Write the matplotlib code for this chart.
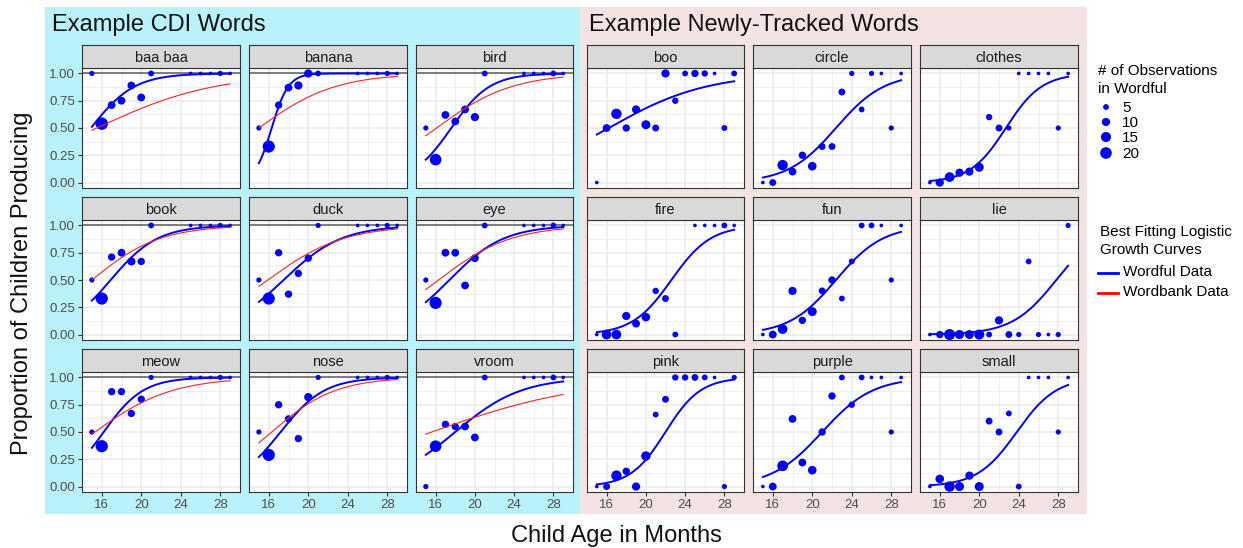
import matplotlib
matplotlib.use("Agg")
import matplotlib.pyplot as plt
from matplotlib.patches import Rectangle
import numpy as np

plt.rcParams['font.family'] = ['Liberation Sans', 'DejaVu Sans']

W, H = 1243, 548

cdi_words = ["baa baa", "banana", "bird", "book", "duck", "eye", "meow", "nose", "vroom"]
new_words = ["boo", "circle", "clothes", "fire", "fun", "lie", "pink", "purple", "small"]

cdi_ages = [15, 16, 17, 18, 19, 20, 21, 25, 26, 27, 28, 29]
new_ages = [15, 16, 17, 18, 19, 20, 21, 22, 23, 24, 25, 26, 27, 28, 29]
fire_ages = [15, 16, 17, 18, 19, 20, 21, 22, 23, 25, 26, 27, 28, 29]

# proportion of children producing the word, per age
prop = {
    "baa baa": [1.00, 0.54, 0.71, 0.75, 0.89, 0.78, 1, 1, 1, 1, 1, 1],
    "banana":  [0.50, 0.33, 0.71, 0.87, 0.89, 1.00, 1, 1, 1, 1, 1, 1],
    "bird":    [0.50, 0.21, 0.62, 0.56, 0.67, 0.60, 1, 1, 1, 1, 1, 1],
    "book":    [0.50, 0.33, 0.71, 0.75, 0.67, 0.67, 1, 1, 1, 1, 1, 1],
    "duck":    [0.50, 0.33, 0.75, 0.37, 0.56, 0.70, 1, 1, 1, 1, 1, 1],
    "eye":     [0.50, 0.29, 0.75, 0.75, 0.45, 0.70, 1, 1, 1, 1, 1, 1],
    "meow":    [0.50, 0.37, 0.87, 0.87, 0.67, 0.80, 1, 1, 1, 1, 1, 1],
    "nose":    [0.50, 0.29, 0.75, 0.62, 0.44, 0.82, 1, 1, 1, 1, 1, 1],
    "vroom":   [0.00, 0.37, 0.57, 0.55, 0.55, 0.45, 1, 1, 1, 1, 1, 1],
    "boo":     [0, 0.50, 0.63, 0.50, 0.67, 0.53, 0.50, 1, 0.75, 1, 1, 1, 1, 0.5, 1],
    "circle":  [0, 0, 0.16, 0.10, 0.25, 0.15, 0.33, 0.33, 0.83, 1, 0.67, 1, 1, 0.5, 1],
    "clothes": [0, 0, 0.05, 0.09, 0.10, 0.14, 0.60, 0.50, 0.50, 1, 1, 1, 1, 0.5, 1],
    "fire":    [0, 0, 0, 0.17, 0.10, 0.16, 0.40, 0.33, 0, 1, 1, 1, 1, 1],
    "fun":     [0, 0, 0.05, 0.40, 0.13, 0.21, 0.40, 0.50, 0.33, 0.67, 1, 1, 1, 0.5, 1],
    "lie":     [0, 0, 0, 0, 0, 0, 0, 0.13, 0, 0, 0.67, 0, 0, 0, 1],
    "pink":    [0, 0, 0.10, 0.14, 0, 0.28, 0.66, 0.80, 1, 1, 1, 1, 1, 0, 1],
    "purple":  [0, 0, 0.19, 0.62, 0.22, 0.15, 0.50, 0.83, 1, 0.75, 1, 1, 1, 0.5, 1],
    "small":   [0, 0.07, 0, 0, 0.10, 0, 0.60, 0.50, 0.67, 0, 1, 1, 1, 0.5, 1],
}

# number of observations in Wordful, per age
nobs = {
    "baa baa": [4, 23, 9, 9, 9, 9, 5, 2, 2, 2, 4, 2],
    "banana":  [4, 22, 8, 9, 10, 10, 5, 2, 2, 2, 4, 2],
    "bird":    [4, 20, 9, 9, 9, 10, 5, 2, 2, 2, 5, 2],
    "book":    [4, 22, 8, 9, 10, 8, 5, 2, 2, 2, 4, 2],
    "duck":    [4, 22, 8, 8, 8, 8, 4, 2, 2, 2, 4, 2],
    "eye":     [4, 22, 9, 9, 9, 9, 5, 2, 2, 2, 5, 2],
    "meow":    [4, 22, 8, 8, 8, 8, 4, 2, 2, 2, 4, 2],
    "nose":    [4, 22, 8, 8, 8, 10, 4, 2, 2, 2, 4, 2],
    "vroom":   [4, 20, 8, 8, 9, 9, 5, 2, 2, 2, 5, 2],
    "boo":     [2, 9, 16, 8, 10, 12, 7, 10, 6, 5, 8, 6, 2, 5, 5],
    "circle":  [2, 7, 16, 9, 8, 11, 7, 7, 7, 4, 5, 4, 2, 4, 2],
    "clothes": [2, 10, 14, 10, 10, 12, 6, 7, 4, 2, 2, 2, 2, 4, 2],
    "fire":    [2, 14, 14, 10, 9, 11, 6, 7, 5, 2, 2, 2, 5, 2],
    "fun":     [2, 9, 14, 10, 8, 12, 7, 8, 5, 5, 5, 5, 2, 4, 2],
    "lie":     [2, 8, 18, 12, 12, 15, 5, 10, 7, 4, 5, 4, 2, 4, 4],
    "pink":    [2, 7, 16, 8, 10, 13, 5, 7, 6, 6, 7, 5, 2, 4, 4],
    "purple":  [2, 9, 17, 9, 9, 11, 8, 8, 5, 6, 5, 2, 2, 4, 2],
    "small":   [2, 11, 16, 12, 10, 12, 7, 7, 5, 5, 2, 2, 2, 4, 2],
}

# logistic fits: (midpoint age, slope)
fit_wordful = {
    "baa baa": (14.9, 0.45), "banana": (16.3, 1.18), "bird": (17.6, 0.51),
    "book": (16.9, 0.42), "duck": (17.5, 0.34), "eye": (17.4, 0.36),
    "meow": (16.2, 0.50), "nose": (17.2, 0.45), "vroom": (18.0, 0.297),
    "boo": (16.2, 0.20), "circle": (22.4, 0.41), "clothes": (22.7, 0.55),
    "fire": (22.6, 0.50), "fun": (22.4, 0.42), "lie": (27.8, 0.446),
    "pink": (22.0, 0.56), "purple": (21.0, 0.39), "small": (23.8, 0.50),
}
fit_wordbank = {
    "baa baa": (15.5, 0.167), "banana": (15.0, 0.257), "bird": (16.1, 0.26),
    "book": (15.0, 0.29), "duck": (15.9, 0.26), "eye": (16.3, 0.27),
    "meow": (15.3, 0.254), "nose": (16.3, 0.31), "vroom": (15.6, 0.126),
}

size_breaks = [5, 10, 15, 20]


def logistic(x, mid, k):
    return 1.0 / (1.0 + np.exp(-k * (x - mid)))


def box(l, t, r, b):
    return [l / W, 1 - b / H, (r - l) / W, (b - t) / H]


def msize(n):
    return 3.5 * np.asarray(n, dtype=float)


fig = plt.figure(figsize=(W / 100, H / 100), dpi=100)
fig.patch.set_facecolor("white")

bg = fig.add_axes([0, 0, 1, 1], zorder=0)
bg.set_xlim(0, W)
bg.set_ylim(H, 0)
bg.axis("off")
bg.add_patch(Rectangle((45, 7), 535, 507, facecolor="#B9F2FB", edgecolor="none"))
bg.add_patch(Rectangle((580, 7), 507, 507, facecolor="#F3E4E3", edgecolor="none"))

col_x = [(82, 240), (249, 407), (416, 573), (587, 744), (753, 911), (920, 1078)]
row_y = [(45, 68, 188), (197, 220, 340), (349, 372, 492)]

xs = np.linspace(15, 29, 200)

for half, words in enumerate([cdi_words, new_words]):
    for i, word in enumerate(words):
        r, c = divmod(i, 3)
        col = c + 3 * half
        x0, x1 = col_x[col]
        st, sb, pb = row_y[r]

        ax = fig.add_axes(box(x0, sb, x1, pb), zorder=1)
        ax.set_facecolor("white")
        ax.set_xlim(14.3, 29.7)
        ax.set_ylim(-0.05, 1.05)
        ax.set_xticks([16, 20, 24, 28])
        ax.set_xticks([14, 18, 22, 26, 30], minor=True)
        ax.set_yticks([0, 0.25, 0.5, 0.75, 1.0])
        ax.set_yticks([0.125, 0.375, 0.625, 0.875], minor=True)
        ax.grid(which="major", color="#EBEBEB", lw=1.1)
        ax.grid(which="minor", color="#EBEBEB", lw=0.55)
        ax.set_axisbelow(True)
        for s in ax.spines.values():
            s.set_color("#333333")
            s.set_linewidth(0.8)
        ax.tick_params(which="minor", length=0)
        ax.tick_params(which="major", length=3, width=0.8, color="#333333",
                       labelcolor="#4D4D4D", labelsize=9.5, pad=2)
        ax.set_yticklabels(["0.00", "0.25", "0.50", "0.75", "1.00"])
        if col != 0:
            ax.tick_params(axis="y", left=False, labelleft=False)
        if r != 2:
            ax.tick_params(axis="x", bottom=False, labelbottom=False)

        if half == 0:
            ages = cdi_ages
            ax.axhline(1.0, color="#7F7F7F", lw=1.5, zorder=1.5)
        elif word == "fire":
            ages = fire_ages
        else:
            ages = new_ages

        ax.scatter(ages, prop[word], s=msize(nobs[word]), color="#0000FF",
                   edgecolors="none", zorder=3)
        mid, k = fit_wordful[word]
        ax.plot(xs, logistic(xs, mid, k), color="#0000FF", lw=1.4, zorder=3.5)
        if word in fit_wordbank:
            mid, k = fit_wordbank[word]
            ax.plot(xs, logistic(xs, mid, k), color="#FF2020", lw=0.8, zorder=4)

        sx = fig.add_axes(box(x0, st, x1, sb), zorder=1)
        sx.set_facecolor("#D9D9D9")
        sx.set_xticks([])
        sx.set_yticks([])
        for s in sx.spines.values():
            s.set_color("#333333")
            s.set_linewidth(0.8)
        sx.text(0.5, 0.45, word, ha="center", va="center", fontsize=10.5,
                color="#1A1A1A", transform=sx.transAxes)

# titles and axis labels
bg.text(52, 25, "Example CDI Words", fontsize=17, va="center", ha="left", color="#111111")
bg.text(589, 25, "Example Newly-Tracked Words", fontsize=17, va="center", ha="left",
        color="#111111")
bg.text(22, 283, "Proportion of Children Producing", fontsize=17, rotation=90,
        ha="center", va="center", color="#111111")
bg.text(616, 542, "Child Age in Months", fontsize=17, ha="center", va="baseline",
        color="#111111")

# size legend
bg.text(1098, 71, "# of Observations", fontsize=11, va="center", ha="left")
bg.text(1098, 89, "in Wordful", fontsize=11, va="center", ha="left")
key_y = [107, 122, 137, 153]
bg.scatter([1106] * len(size_breaks), key_y, s=msize(size_breaks), color="#0000FF",
           edgecolors="none")
for yy, lab in zip(key_y, size_breaks):
    bg.text(1122, yy + 1, str(lab), fontsize=11, va="center", ha="left")

# line legend
bg.text(1100, 232, "Best Fitting Logistic", fontsize=11, va="center", ha="left")
bg.text(1100, 250, "Growth Curves", fontsize=11, va="center", ha="left")
bg.plot([1098, 1118], [273, 273], color="#0000FF", lw=2)
bg.text(1123, 272, "Wordful Data", fontsize=11, va="center", ha="left")
bg.plot([1098, 1118], [293, 293], color="#FF0000", lw=2)
bg.text(1123, 292, "Wordbank Data", fontsize=11, va="center", ha="left")

fig.savefig("out.png", dpi=100)
